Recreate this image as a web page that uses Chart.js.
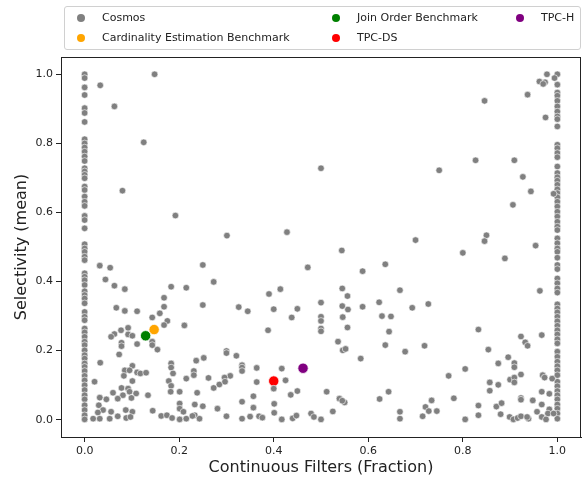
<!DOCTYPE html>
<html>
<head>
<meta charset="utf-8">
<script src="https://cdn.jsdelivr.net/npm/chart.js@4/dist/chart.umd.min.js"></script>
<style>
  html, body { margin: 0; padding: 0; background: #fff; }
  #wrap { position: relative; width: 582px; height: 477px; }
  #legend { position: absolute; left: 64px; top: 6px; width: 515px; height: 42px;
    border: 1px solid #d0d0d0; border-radius: 3px; background: rgba(255,255,255,0.8);
    font-family: 'DejaVu Sans', sans-serif; font-size: 11px; color: #222; }
  .item { position: absolute; white-space: nowrap; height: 14px; line-height: 14px; }
  .dot { position: absolute; width: 8px; height: 8px; border-radius: 50%; top: 3px; left: 0; }
  .lab { position: absolute; left: 25px; top: 0; }
</style>
</head>
<body>
<div id="wrap">
  <canvas id="c" width="582" height="477"></canvas>
  <div id="legend"></div>
</div>
<script>
// ---- data ----
const seriesNames = ['Cosmos', 'Cardinality Estimation Benchmark', 'Join Order Benchmark', 'TPC-DS', 'TPC-H'];
const seriesColors = ['#808080', '#FFA500', '#008000', '#FF0000', '#800080'];
const xTicks = [0.0, 0.2, 0.4, 0.6, 0.8, 1.0];
const yTicks = [0.0, 0.2, 0.4, 0.6, 0.8, 1.0];

// Cosmos workloads lying at x = 0 and x = 1 (selectivity values)
const cosmosAtZeroY = [1.0, 0.989, 0.962, 0.94, 0.902, 0.888, 0.862, 0.812, 0.80, 0.788, 0.776, 0.762, 0.749,
  0.728, 0.719, 0.709, 0.699, 0.675, 0.665, 0.646, 0.631, 0.619, 0.590, 0.578, 0.554, 0.508, 0.496,
  0.486, 0.472, 0.462, 0.424, 0.414, 0.404, 0.390, 0.372, 0.361, 0.351, 0.337, 0.312, 0.298, 0.288,
  0.264, 0.253, 0.240, 0.226, 0.216, 0.201, 0.187, 0.177, 0.163, 0.153, 0.141, 0.127, 0.114, 0.100,
  0.086, 0.071, 0.059, 0.042, 0.028, 0.013, 0.001];
const cosmosAtOneY = [1.0, 0.970, 0.947, 0.938, 0.923, 0.907, 0.892, 0.878, 0.870, 0.849, 0.796, 0.786, 0.772,
  0.760, 0.733, 0.714, 0.702, 0.692, 0.680, 0.667, 0.656, 0.644, 0.631, 0.617, 0.602, 0.588, 0.573,
  0.559, 0.549, 0.525, 0.511, 0.496, 0.486, 0.469, 0.448, 0.436, 0.409, 0.395, 0.380, 0.368, 0.334,
  0.322, 0.311, 0.298, 0.285, 0.272, 0.259, 0.247, 0.233, 0.221, 0.197, 0.182, 0.168, 0.155, 0.143,
  0.129, 0.110, 0.097, 0.083, 0.071, 0.059, 0.044, 0.032, 0.018, 0.003];
// Other Cosmos workloads: [continuous filter fraction, mean selectivity]
const cosmosOther = [
  [0.148,1.0],[0.033,0.968],[0.063,0.907],[0.125,0.803],[0.080,0.663],[0.192,0.591],[0.301,0.533],
  [0.500,0.728],[0.428,0.543],[0.544,0.490],
  [0.978,1.0],[0.994,0.989],[0.974,0.977],[0.962,0.979],[0.970,0.972],[0.937,0.941],[0.846,0.923],[0.975,0.875],
  [0.827,0.751],[0.909,0.751],[0.750,0.722],[0.927,0.703],[0.944,0.661],[0.992,0.654],[0.906,0.622],
  [0.700,0.520],[0.850,0.534],[0.846,0.517],[0.954,0.504],[0.800,0.483],[0.889,0.467],[0.963,0.373],
  [0.693,0.324],[0.727,0.335],[0.833,0.261],[0.967,0.245],[0.923,0.241],[0.932,0.224],[0.937,0.214],
  [0.678,0.197],[0.719,0.214],[0.854,0.203],[0.896,0.181],[0.909,0.164],[0.909,0.152],[0.875,0.163],
  [0.805,0.147],[0.770,0.127],[0.900,0.116],[0.909,0.122],[0.923,0.131],[0.909,0.108],[0.857,0.108],
  [0.875,0.101],[0.857,0.084],[0.969,0.129],[0.973,0.122],[0.989,0.119],[0.967,0.081],[0.983,0.075],
  [0.781,0.062],[0.734,0.056],[0.721,0.037],[0.728,0.025],[0.745,0.025],[0.715,0.010],[0.805,0.001],
  [0.833,0.041],[0.833,0.013],[0.871,0.038],[0.882,0.048],[0.880,0.016],[0.923,0.063],[0.923,0.058],
  [0.948,0.056],[0.957,0.023],[0.967,0.044],[0.983,0.030],[0.980,0.018],[0.992,0.018],[0.899,0.008],
  [0.907,0.001],[0.916,0.005],[0.923,0.010],[0.939,0.003],[0.967,0.008],[0.976,0.001],[0.936,0.008],
  [0.032,0.446],[0.054,0.440],[0.250,0.448],[0.044,0.406],[0.063,0.388],[0.085,0.378],[0.273,0.399],
  [0.183,0.385],[0.215,0.382],[0.168,0.353],[0.250,0.332],[0.168,0.327],[0.067,0.324],[0.085,0.315],
  [0.111,0.314],[0.159,0.308],[0.143,0.296],[0.175,0.286],[0.211,0.273],[0.168,0.274],[0.092,0.266],
  [0.077,0.259],[0.063,0.248],[0.056,0.240],[0.092,0.247],[0.101,0.243],[0.078,0.223],[0.078,0.213],
  [0.111,0.219],[0.143,0.226],[0.143,0.216],[0.154,0.203],[0.073,0.189],[0.033,0.165],[0.300,0.199],
  [0.300,0.193],[0.252,0.179],[0.236,0.171],[0.183,0.163],[0.183,0.151],[0.101,0.156],[0.085,0.143],
  [0.095,0.143],[0.111,0.137],[0.118,0.134],[0.130,0.136],[0.187,0.134],[0.231,0.141],[0.231,0.129],
  [0.308,0.127],[0.296,0.122],[0.262,0.121],[0.215,0.119],[0.083,0.127],[0.101,0.112],[0.021,0.110],
  [0.178,0.112],[0.183,0.098],[0.285,0.102],[0.273,0.092],[0.297,0.110],[0.078,0.092],[0.092,0.090],
  [0.095,0.081],[0.109,0.076],[0.060,0.078],[0.081,0.071],[0.134,0.071],[0.182,0.081],[0.201,0.081],
  [0.238,0.078],[0.032,0.064],[0.046,0.059],[0.070,0.061],[0.099,0.063],[0.201,0.047],[0.233,0.044],
  [0.250,0.039],[0.030,0.042],[0.039,0.028],[0.028,0.021],[0.056,0.023],[0.087,0.028],[0.101,0.023],
  [0.144,0.026],[0.201,0.032],[0.209,0.023],[0.233,0.013],[0.281,0.032],[0.300,0.010],[0.018,0.003],
  [0.032,0.003],[0.053,0.003],[0.070,0.010],[0.088,0.005],[0.097,0.008],[0.162,0.011],[0.174,0.013],
  [0.185,0.005],[0.201,0.001],[0.215,0.003],[0.228,0.011],[0.243,0.003],
  [0.472,0.441],[0.588,0.430],[0.636,0.450],[0.390,0.364],[0.414,0.378],[0.545,0.380],[0.556,0.358],
  [0.667,0.375],[0.326,0.326],[0.345,0.314],[0.400,0.320],[0.450,0.321],[0.438,0.296],[0.500,0.339],
  [0.500,0.298],[0.500,0.286],[0.545,0.329],[0.557,0.319],[0.546,0.297],[0.588,0.327],[0.623,0.340],
  [0.629,0.300],[0.648,0.299],[0.644,0.255],[0.636,0.216],[0.556,0.267],[0.500,0.264],[0.500,0.256],
  [0.388,0.259],[0.536,0.226],[0.546,0.201],[0.552,0.205],[0.584,0.177],[0.321,0.185],[0.333,0.158],
  [0.333,0.151],[0.333,0.141],[0.364,0.150],[0.417,0.148],[0.364,0.109],[0.425,0.114],[0.400,0.090],
  [0.450,0.083],[0.436,0.072],[0.512,0.081],[0.357,0.068],[0.333,0.052],[0.357,0.035],[0.401,0.046],
  [0.401,0.020],[0.350,0.009],[0.333,0.003],[0.369,0.010],[0.376,0.006],[0.417,0.001],[0.440,0.004],
  [0.448,0.012],[0.479,0.018],[0.485,0.008],[0.500,0.001],[0.525,0.024],[0.539,0.061],[0.550,0.050],
  [0.545,0.055],[0.624,0.060],[0.643,0.081],[0.667,0.023],[0.667,0.003]
];
// Benchmarks (one point each), same order as seriesNames[1..]
const benchX = [0.147, 0.129, 0.400, 0.462];
const benchY = [0.261, 0.243, 0.112, 0.149];

// ---- build datasets ----
const cosmosData = []
  .concat(cosmosAtZeroY.map(y => ({x: 0, y})))
  .concat(cosmosAtOneY.map(y => ({x: 1, y})))
  .concat(cosmosOther.map(p => ({x: p[0], y: p[1]})));

const datasets = [{
  label: seriesNames[0], data: cosmosData,
  backgroundColor: seriesColors[0], borderColor: '#ffffff', borderWidth: 0.6,
  pointRadius: 3.3, pointHoverRadius: 3.3
}];
for (let i = 0; i < benchX.length; i++) {
  datasets.push({
    label: seriesNames[i + 1], data: [{x: benchX[i], y: benchY[i]}],
    backgroundColor: seriesColors[i + 1], borderColor: '#ffffff', borderWidth: 0.8,
    pointRadius: 5.2, pointHoverRadius: 5.2
  });
}

const frame = {
  id: 'frame',
  afterDatasetsDraw(chart) {
    const a = chart.chartArea, ctx = chart.ctx;
    ctx.save();
    ctx.strokeStyle = '#222'; ctx.lineWidth = 1;
    ctx.strokeRect(Math.round(a.left) + 0.5, Math.round(a.top) + 0.5,
      Math.round(a.right - a.left) - 1, Math.round(a.bottom - a.top));
    ctx.restore();
  }
};

const FONT = "'DejaVu Sans', sans-serif";
function axis(ticks, title, vertical) {
  return {
    type: 'linear', min: -0.05, max: 1.05,
    afterBuildTicks: s => { s.ticks = ticks.map(v => ({value: v})); },
    afterFit: s => {
      if (vertical) { s.width = 61; s.paddingTop = 0; s.paddingBottom = 0; }
      else { s.height = 40; s.paddingLeft = 0; s.paddingRight = 0; }
    },
    ticks: { color: '#222', font: {family: FONT, size: 11}, padding: 3,
      callback: v => Number(v).toFixed(1) },
    grid: { drawOnChartArea: false, drawTicks: true, tickLength: 5, tickColor: '#222' },
    border: { display: true, color: '#222', width: 1 },
    title: { display: true, text: title, color: '#222', font: {family: FONT, size: 16},
      padding: vertical ? {top: 12, bottom: 0} : {top: 0, bottom: 0} }
  };
}

const chart = new Chart(document.getElementById('c'), {
  type: 'scatter',
  data: { datasets },
  options: {
    responsive: false, animation: false, devicePixelRatio: 1,
    layout: { autoPadding: false, padding: { top: 57, left: 0, right: 1, bottom: 0 } },
    plugins: { legend: { display: false }, tooltip: { enabled: false } },
    scales: {
      x: axis(xTicks, 'Continuous Filters (Fraction)', false),
      y: axis(yTicks, 'Selectivity (mean)', true)
    }
  },
  plugins: [frame]
});

// ---- legend (3 columns, column-major) ----
const colLeft = [12, 267, 451];
const rowTop = [4, 24];
const leg = document.getElementById('legend');
chart.data.datasets.forEach((ds, i) => {
  const col = Math.floor(i / 2), row = i % 2;
  const it = document.createElement('div');
  it.className = 'item';
  it.style.left = colLeft[col] + 'px';
  it.style.top = rowTop[row] + 'px';
  const d = document.createElement('span');
  d.className = 'dot'; d.style.background = ds.backgroundColor;
  const t = document.createElement('span');
  t.className = 'lab'; t.textContent = ds.label;
  it.appendChild(d); it.appendChild(t);
  leg.appendChild(it);
});
</script>
</body>
</html>
